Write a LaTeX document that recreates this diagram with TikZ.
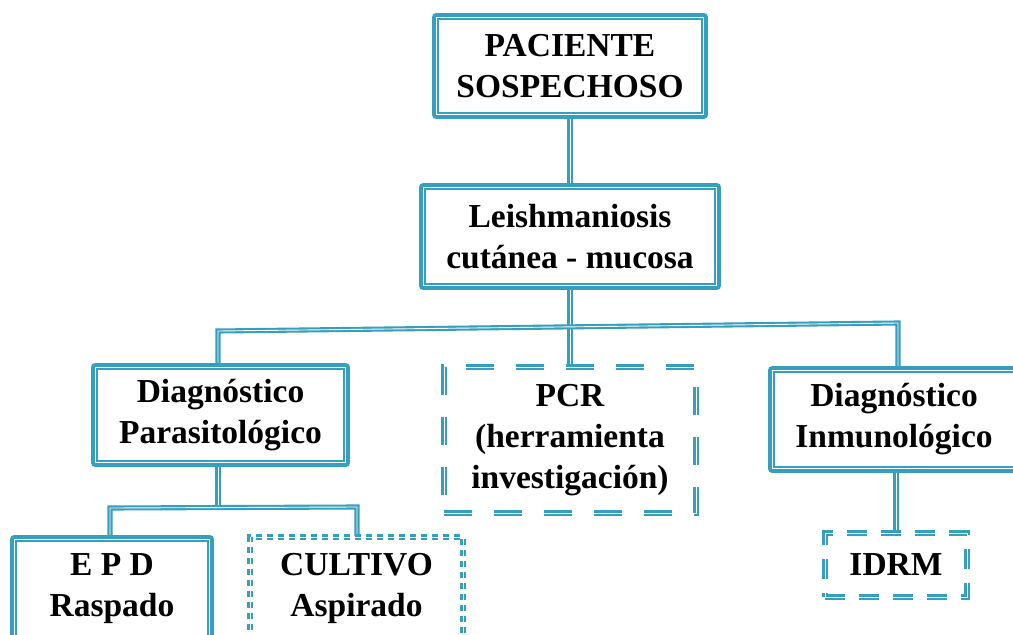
\documentclass[tikz,border=0pt]{standalone}
\usepackage{fontspec}
\setmainfont{Liberation Serif}
\usetikzlibrary{backgrounds}
\definecolor{tl}{RGB}{54,158,190}
\tikzset{
  lbl/.style={font=\bfseries\fontsize{33.5}{41}\selectfont, align=center, inner sep=0pt},
  solidbox/.style={lbl, draw=tl, line width=3.6pt, rounded corners=2pt, fill=white},
  innerline/.style={draw=tl, line width=1.4pt},
  dashbox/.style={lbl, draw=tl, line width=2.4pt, double=white, double distance=0.9pt, fill=white},
  longdash/.style={dash pattern=on 28pt off 22pt},
  middash/.style={dash pattern=on 20pt off 14pt},
  shortdash/.style={dash pattern=on 6pt off 5pt},
  conn/.style={draw=tl, line width=2.1pt, double=white, double distance=0.9pt},
}
\newcommand\ibx[1]{\draw[innerline] ([xshift=5.9pt,yshift=5.9pt]#1.south west) rectangle ([xshift=-5.9pt,yshift=-5.9pt]#1.north east);}
\begin{document}
\begin{tikzpicture}[x=1pt,y=-1pt]
\useasboundingbox (0,0) rectangle (1013,635);
\clip (0,0) rectangle (1013,635);
% coordinates for connectors
\coordinate (bl) at (218,331);
\coordinate (br) at (898,323);
\coordinate (b2m) at (218,507.5);
\coordinate (b2l) at (110,508);
\coordinate (b2r) at (357,507);
% nodes
\path
  (570,66) node[solidbox, minimum width=272pt, minimum height=102pt] (top) {PACIENTE\\SOSPECHOSO}
  (570,236.5) node[solidbox, minimum width=298pt, minimum height=103pt] (leish) {Leishmaniosis\\cutánea - mucosa}
  (220.5,415) node[solidbox, minimum width=255pt, minimum height=100pt] (para) {Diagnóstico\\Parasitológico}
  (570,440) node[dashbox, longdash, minimum width=252pt, minimum height=146pt] (pcr) {PCR\\(herramienta\\investigación)}
  (894,419.5) node[solidbox, minimum width=248pt, minimum height=103pt] (inmu) {Diagnóstico\\Inmunológico}
  (896,565) node[dashbox, middash, minimum width=142pt, minimum height=64pt] (idrm) {IDRM}
  (112,588.5) node[solidbox, minimum width=200pt, minimum height=103pt] (epd) {E P D\\Raspado}
  (356.5,588.5) node[dashbox, shortdash, minimum width=213pt, minimum height=103pt] (cult) {CULTIVO\\Aspirado};
\ibx{top}
\ibx{leish}
\ibx{para}
\ibx{inmu}
\ibx{epd}
% connectors
\begin{scope}[on background layer]
\fill[white] (0,0) rectangle (1013,635);
\draw[conn] (top.south) -- (leish.north);
\draw[conn] (leish.south) -- (pcr.north);
\draw[conn] (para.north -| bl) -- (bl) -- (br) -- (inmu.north -| br);
\draw[conn] (para.south -| b2m) -- (b2m);
\draw[conn] (epd.north -| b2l) -- (b2l) -- (b2r) -- (cult.north -| b2r);
\draw[conn] (inmu.south -| idrm.north) -- (idrm.north);
\end{scope}
\end{tikzpicture}
\end{document}
